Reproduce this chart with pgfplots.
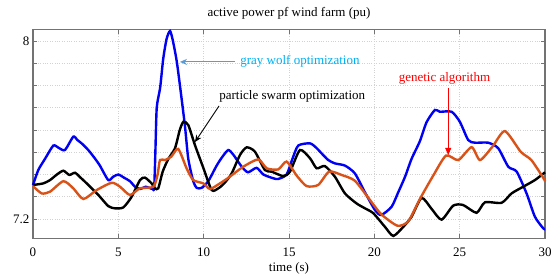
\documentclass[border=0pt]{standalone}
\usepackage{pgfplots}
\pgfplotsset{compat=1.18}
\usepackage{fontspec}
\setmainfont{Liberation Serif}
\usetikzlibrary{arrows.meta}
\definecolor{mblue}{RGB}{0,0,245}
\definecolor{morange}{RGB}{217,83,25}
\definecolor{gwtext}{RGB}{0,176,240}
\definecolor{gwarrow}{RGB}{91,155,213}
\definecolor{axgray}{RGB}{115,115,115}
\begin{document}
\begin{tikzpicture}
\begin{axis}[
  scale only axis, width=512pt, height=208.6pt,
  xmin=0, xmax=30, ymin=7.1133, ymax=8.0508,
  xtick={0,5,10,15,20,25,30},
  ytick={7.2,7.3,7.4,7.5,7.6,7.7,7.8,7.9,8.0},
  yticklabels={7.2,,,,,,,,8},
  /pgf/number format/assume math mode=true,
  tick align=inside, major tick length=4pt,
  tick style={axgray, line width=0.6pt},
  axis line style={axgray, line width=1.3pt},
  grid=major, major grid style={lightgray!70, dotted, line width=0.6pt},
  font=\fontsize{13}{15}\selectfont,
  ticklabel style={font=\fontsize{13}{15}\selectfont},
  xticklabel style={anchor=base, yshift=-17.7pt},
  title={active power pf wind farm (pu)},
  title style={anchor=base, at={(0.5,1)}, yshift=7pt, font=\fontsize{13}{15}\selectfont},
  xlabel={time (s)},
  xlabel style={at={(0.5,0)}, anchor=base, yshift=-32.7pt, font=\fontsize{13}{15}\selectfont},
  clip=false,
]
\addplot[mblue, line width=2.4pt, smooth, tension=0.4] coordinates {
(0,7.353) (0.31,7.42) (0.7,7.47) (1.19,7.53) (1.5,7.52) (1.87,7.51) (2.36,7.57)
(2.6,7.555) (2.85,7.54) (3.24,7.51) (3.6,7.475) (3.92,7.44) (4.41,7.375) (4.7,7.39)
(5.0,7.40) (5.35,7.385) (5.68,7.37) (5.98,7.345) (6.3,7.335) (6.6,7.345) (7.0,7.335)
(7.1,7.34) (7.17,7.5) (7.25,7.70) (7.45,7.79) (7.63,7.92) (7.83,8.01) (8.03,8.045)
(8.2,8.0) (8.42,7.91) (8.61,7.80) (8.9,7.62) (9.1,7.47) (9.39,7.37) (9.59,7.34)
(9.88,7.34) (10.27,7.37) (10.76,7.44) (11.1,7.48) (11.44,7.51) (11.73,7.49) (12.23,7.435)
(12.6,7.41) (13.1,7.43) (13.5,7.40) (14.08,7.383) (14.37,7.38) (14.86,7.40) (15.2,7.47)
(15.54,7.53) (16.23,7.54) (16.6,7.52) (16.91,7.495) (17.3,7.465) (17.69,7.45) (18.28,7.44)
(18.86,7.405) (19.45,7.32) (20.04,7.24) (20.4,7.218) (21.01,7.255) (21.4,7.32) (21.8,7.39)
(22.18,7.47) (22.67,7.55) (23.06,7.635) (23.55,7.69) (23.84,7.682) (24.53,7.682) (25.01,7.637)
(25.5,7.555) (25.89,7.543) (26.67,7.543) (27.26,7.518) (27.85,7.435) (28.34,7.413) (28.92,7.315)
(29.41,7.21) (29.9,7.158) (30,7.155)
};
\addplot[black, line width=2.4pt, smooth, tension=0.4] coordinates {
(0,7.353) (0.6,7.36) (1.0,7.375) (1.4,7.40) (1.78,7.417) (2.13,7.398) (2.46,7.408)
(2.8,7.385) (3.15,7.36) (3.83,7.308) (4.41,7.258) (4.8,7.248) (5.29,7.252) (5.78,7.30)
(6.27,7.375) (6.56,7.386) (6.95,7.36) (7.15,7.338) (7.34,7.338) (7.6,7.413) (7.93,7.47)
(8.32,7.518) (8.6,7.60) (8.81,7.637) (9.1,7.622) (9.49,7.532) (9.98,7.43) (10.47,7.33)
(10.86,7.338) (11.2,7.36) (11.64,7.405) (12.13,7.488) (12.52,7.522) (13.0,7.503) (13.59,7.42)
(13.98,7.413) (14.66,7.393) (15.06,7.413) (15.64,7.51) (16.23,7.473) (16.62,7.428) (17.1,7.438)
(17.69,7.39) (18.28,7.315) (18.96,7.27) (19.45,7.248) (19.94,7.226) (20.62,7.165) (21.11,7.124)
(21.7,7.165) (22.18,7.21) (22.77,7.295) (23.36,7.245) (23.94,7.197) (24.62,7.26) (25.2,7.263)
(25.99,7.228) (26.48,7.275) (27.46,7.273) (28.04,7.315) (28.72,7.345) (29.41,7.375) (30,7.41)
};
\addplot[morange, line width=2.4pt, smooth, tension=0.4] coordinates {
(0,7.348) (0.51,7.315) (1.0,7.323) (1.78,7.37) (2.36,7.338) (2.95,7.29) (3.73,7.33)
(4.61,7.363) (5.1,7.345) (5.68,7.308) (6.27,7.338) (7.05,7.345) (7.3,7.40) (7.44,7.465)
(7.73,7.465) (8.1,7.48) (8.51,7.515) (9.0,7.428) (9.39,7.375) (9.98,7.36) (10.37,7.335)
(10.95,7.36) (11.44,7.385) (12.32,7.435) (13.2,7.468) (13.69,7.428) (14.37,7.423) (14.86,7.458)
(15.45,7.395) (16.03,7.348) (16.71,7.353) (17.35,7.413) (18.08,7.398) (18.86,7.372) (19.7,7.29)
(20.4,7.222) (21.35,7.17) (21.99,7.19) (22.67,7.29) (23.45,7.395) (24.2,7.485) (24.92,7.465)
(25.7,7.523) (26.19,7.465) (26.92,7.525) (27.65,7.595) (28.58,7.502) (29.2,7.465) (29.9,7.385)
(30,7.37)
};
\node[gwtext, font=\fontsize{13}{15}\selectfont] at (axis cs:15.64,7.910) {gray wolf optimization};
\draw[gwarrow, line width=1pt, -{Stealth[length=7pt,width=6pt]}] (axis cs:11.83,7.906) -- (axis cs:8.61,7.906);
\node[black, font=\fontsize{13}{15}\selectfont] at (axis cs:15.19,7.750) {particle swarm optimization};
\draw[black, line width=0.9pt, -{Stealth[length=7pt,width=6pt]}] (axis cs:10.9,7.708) -- (axis cs:9.49,7.546);
\node[red, font=\fontsize{13}{15}\selectfont] at (axis cs:24.11,7.832) {genetic algorithm};
\draw[red, line width=0.9pt, -{Triangle[length=7pt,width=6pt]}] (axis cs:24.33,7.789) -- (axis cs:24.33,7.488);
\end{axis}
\path (current axis.south west) ++(-33pt,-36.7pt) rectangle ++(555pt,275pt);
\end{tikzpicture}
\end{document}
